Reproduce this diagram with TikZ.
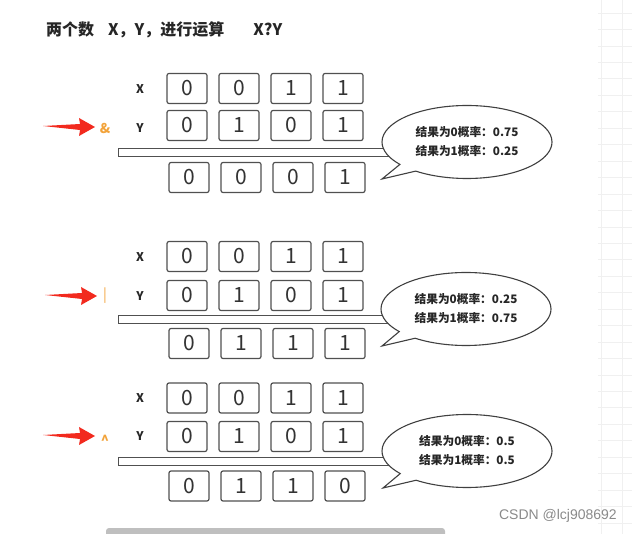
\documentclass[tikz,border=0pt]{standalone}
\usepackage{fontspec}
\setmainfont{Noto Sans CJK SC}
\newfontfamily\wmfont{Liberation Sans}
\usetikzlibrary{positioning, shapes.callouts, arrows.meta}
\definecolor{bxgray}{HTML}{505050}
\definecolor{oporange}{HTML}{F2A33A}
\definecolor{ptred}{HTML}{F22A1E}
\definecolor{wmgray}{HTML}{8A8A8A}

\begin{document}
\begin{tikzpicture}[
  x=1pt, y=-1pt,
  bit/.style={
    rectangle, rounded corners=2pt, draw=bxgray, line width=1.2pt,
    minimum width=40pt, minimum height=30pt, inner sep=0pt,
    font=\fontsize{21}{21}\selectfont, text=black!80
  },
  lbl/.style={font=\fontsize{12}{12}\selectfont\bfseries, text=black!85},
  oper/.style={font=\fontsize{13.5}{13.5}\selectfont\bfseries, text=oporange},
  sumbar/.style={
    rectangle, draw=bxgray, line width=1pt,
    minimum width=282pt, minimum height=8pt, inner sep=0pt
  },
  bubble/.style={
    ellipse callout, draw=black!75, line width=1.1pt, fill=white,
    minimum width=170pt, minimum height=73pt, inner sep=0pt,
    align=left, font=\fontsize{11.7}{19}\selectfont\bfseries, text=black!85
  },
  pointer/.style={fill=ptred},
  gridline/.style={draw=black!6, line width=0.6pt},
]
\useasboundingbox (0,0) rectangle (632,534);

% faint grid on the right
\foreach \k in {0,...,31} \draw[gridline] (598,13+16.45*\k) -- (632,13+16.45*\k);
\draw[gridline] (601,0) -- (601,534);
\draw[gridline] (622,0) -- (622,534);

% Title
\node[anchor=west, inner sep=0pt, font=\fontsize{16}{16}\selectfont\bfseries, text=black!85]
  (title) at (46,30) {两个数\hspace{14pt}X，Y，进行运算\hspace{29pt}X?Y};

% AND
\node[lbl] (xand) at (140,89) {X};
\node[lbl] (yand) at (140,128) {Y};
\node[oper] (opand) at (105,128) {\&};
\coordinate (tipand) at (95,127);
\foreach \v [count=\i] in {0,0,1,1} \node[bit] (xand\i) at (135+52*\i,88.5) {\v};
\foreach \v [count=\i] in {0,1,0,1} \node[bit] (yand\i) at (135+52*\i,125.5) {\v};
\node[sumbar] (barand) at (259,152.5) {};
\foreach \v [count=\i] in {0,0,0,1} \node[bit] (rand\i) at (137+52*\i,177.5) {\v};
\node[bubble, callout absolute pointer={(382,179)}] (pand) at (467,142)
  {结果为0概率：0.75\\结果为1概率：0.25};

% OR
\node[lbl] (xor) at (140,257) {X};
\node[lbl] (yor) at (140,296) {Y};
\node[oper, font=\fontsize{14}{14}\selectfont] (opor) at (105,296) {|};
\coordinate (tipor) at (97,296);
\foreach \v [count=\i] in {0,0,1,1} \node[bit] (xor\i) at (135+52*\i,256.5) {\v};
\foreach \v [count=\i] in {0,1,0,1} \node[bit] (yor\i) at (135+52*\i,295.5) {\v};
\node[sumbar] (baror) at (259,319.5) {};
\foreach \v [count=\i] in {0,1,1,1} \node[bit] (ror\i) at (137+52*\i,343.5) {\v};
\node[bubble, callout absolute pointer={(382,346)}] (por) at (466,309)
  {结果为0概率：0.25\\结果为1概率：0.75};

% XOR
\node[lbl] (xxor) at (140,398) {X};
\node[lbl] (yxor) at (140,436) {Y};
\node[oper] (opxor) at (105,440) {\textasciicircum};
\coordinate (tipxor) at (95,436);
\foreach \v [count=\i] in {0,0,1,1} \node[bit] (xxor\i) at (135+52*\i,398) {\v};
\foreach \v [count=\i] in {0,1,0,1} \node[bit] (yxor\i) at (135+52*\i,436.5) {\v};
\node[sumbar] (barxor) at (259,461.5) {};
\foreach \v [count=\i] in {0,1,1,0} \node[bit] (rxor\i) at (137+52*\i,486) {\v};
\node[bubble, callout absolute pointer={(383,488)}] (pxor) at (467,451)
  {结果为0概率：0.5\\结果为1概率：0.5};

% red pointers
\foreach \t in {tipand,tipor,tipxor}
  \fill[pointer] (\t) -- ++(-16,-9) -- ++(1,6) -- ++(-37,2) -- ++(37,4) -- ++(-1,6) -- cycle;

% watermark and scroll bar
\node[anchor=east, inner sep=0pt, font=\wmfont\fontsize{14}{14}\selectfont, text=wmgray]
  (wm) at (617,516) {CSDN @lcj908692};
\fill[black!25, rounded corners=3pt] (106,528) rectangle (445,538);

\end{tikzpicture}
\end{document}
